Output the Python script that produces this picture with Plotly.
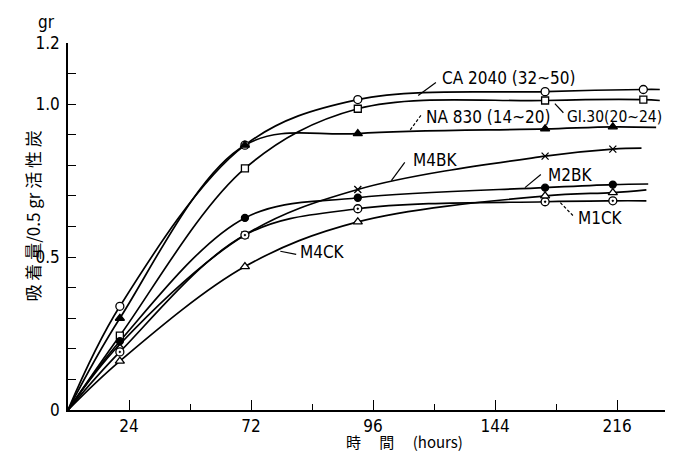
import plotly.graph_objects as go

# ---- data (x in axis position units: labelled ticks at 1,3,5,7,9) ----
tick_pos = [1, 3, 5, 7, 9]
tick_labels = ["24", "72", "96", "144", "216"]

t_a = [0, 0.85, 2.90, 4.75, 7.82, 9.43]          # CA / GL sampling positions
t_b = [0, 0.85, 2.90, 4.75, 7.82, 8.93]          # other series

ca2040 = [0, 0.339, 0.866, 1.015, 1.041, 1.048]
gl30 = [0, 0.243, 0.790, 0.985, 1.012, 1.015]
na830 = [0, 0.300, 0.866, 0.904, 0.919, 0.926]
m4bk = [0, 0.215, 0.572, 0.721, 0.830, 0.853]
m2bk = [0, 0.225, 0.628, 0.694, 0.727, 0.737]
m1ck = [0, 0.190, 0.572, 0.658, 0.681, 0.684]
m4ck = [0, 0.160, 0.469, 0.615, 0.700, 0.711]

# where each drawn curve stops (position, value)
ends = {
    "CA": (9.70, 1.048), "GL": (9.70, 1.012), "NA": (9.64, 0.924),
    "M4BK": (9.40, 0.856), "M2BK": (9.51, 0.739), "M1CK": (9.48, 0.684),
    "M4CK": (9.48, 0.720),
}

series = [
    ("CA", t_a, ca2040, "circle", "white", 8),
    ("GL", t_a, gl30, "square", "white", 7),
    ("NA", t_b, na830, "triangle-up", "black", 8),
    ("M4BK", t_b, m4bk, "x-thin", "black", 7),
    ("M2BK", t_b, m2bk, "circle", "black", 7),
    ("M1CK", t_b, m1ck, "circle-dot", "white", 8),
    ("M4CK", t_b, m4ck, "triangle-up", "white", 8),
]

fig = go.Figure()
for name, t, v, sym, fill, sz in series:
    ex, ey = ends[name]
    fig.add_trace(go.Scatter(x=t + [ex], y=v + [ey], mode="lines",
                             line=dict(color="black", width=1.7, shape="spline", smoothing=1.0),
                             hoverinfo="skip", showlegend=False))
for name, t, v, sym, fill, sz in series:
    fig.add_trace(go.Scatter(x=t[1:], y=v[1:], mode="markers",
                             marker=dict(symbol=sym, size=sz, color=fill,
                                         line=dict(color="black", width=1.3)),
                             name=name, showlegend=False))

FONT = "DejaVu Sans Condensed"
CJK = "Noto Sans CJK JP"

labels = [
    # text, leader from (x0,y0) to (x1,y1), text anchor x, y, dash, size
    ("CA 2040 (32~50)", (5.74, 1.028), (6.03, 1.071), 6.10, 1.084, "solid", 17),
    ("NA 830 (14~20)", (5.61, 0.916), (5.79, 0.965), 5.83, 0.959, "dash", 17),
    ("GI.30(20~24)", (7.98, 1.002), (8.12, 0.972), 8.15, 0.959, "solid", 15.5),
    ("M4BK", (5.30, 0.750), (5.52, 0.810), 5.62, 0.817, "solid", 17),
    ("M2BK", (7.49, 0.727), (7.75, 0.770), 7.84, 0.770, "solid", 17),
    ("M1CK", (8.07, 0.678), (8.28, 0.635), 8.33, 0.628, "dash", 17),
    ("M4CK", (3.48, 0.519), (3.74, 0.509), 3.77, 0.516, "solid", 17),
]
for text, p0, p1, tx, ty, dash, fs in labels:
    fig.add_shape(type="line", x0=p0[0], y0=p0[1], x1=p1[0], y1=p1[1],
                  line=dict(color="black", width=1.2, dash="solid" if dash == "solid" else "3px,2px"))
    fig.add_annotation(x=tx, y=ty, text=text, showarrow=False, xanchor="left",
                       yanchor="middle", font=dict(family=FONT, size=fs, color="black"))

fig.add_annotation(xref="paper", yref="paper", x=-0.058, y=0.53, xanchor="center", yanchor="middle",
                   text="吸 着 量/0.5 gr 活 性 炭",
                   textangle=-90, showarrow=False, font=dict(family=CJK, size=17, color="black"))
fig.add_annotation(xref="paper", yref="paper", x=-0.035, y=1.025, yanchor="bottom", xanchor="center",
                   text="gr", showarrow=False, font=dict(family=FONT, size=17, color="black"))
fig.add_annotation(xref="paper", yref="paper", x=0.557, y=-0.085, yanchor="middle", xanchor="center",
                   text="時　 間　 (hours)", showarrow=False, borderpad=0,
                   font=dict(family=CJK, size=15, color="black"))

fig.update_layout(
    width=673, height=454,
    margin=dict(l=60, r=9, t=35, b=52, autoexpand=False),
    paper_bgcolor="white", plot_bgcolor="white",
    font=dict(family=FONT, size=17, color="black"),
    xaxis=dict(range=[0, 9.9], showgrid=False, zeroline=False, showline=True, automargin=False,
               linecolor="black", linewidth=1.5, ticks="inside", ticklen=10,
               tickwidth=1.3, tickcolor="black", tickvals=tick_pos, ticktext=tick_labels,
               minor=dict(ticks="inside", ticklen=6, tickwidth=1.3, tickcolor="black",
                          tickvals=[2, 4, 6, 8])),
    yaxis=dict(range=[0, 1.2], showgrid=False, zeroline=False, showline=True, automargin=False,
               linecolor="black", linewidth=1.5, ticks="inside", ticklen=8,
               tickwidth=1.3, tickcolor="black", tickvals=[0, 0.5, 1.0, 1.2],
               ticktext=["0", "0.5", "1.0", "1.2"], ticklabelstandoff=3,
               minor=dict(ticks="inside", ticklen=8, tickwidth=1.3, tickcolor="black",
                          dtick=0.1)),
)

fig.write_html("out.html")
